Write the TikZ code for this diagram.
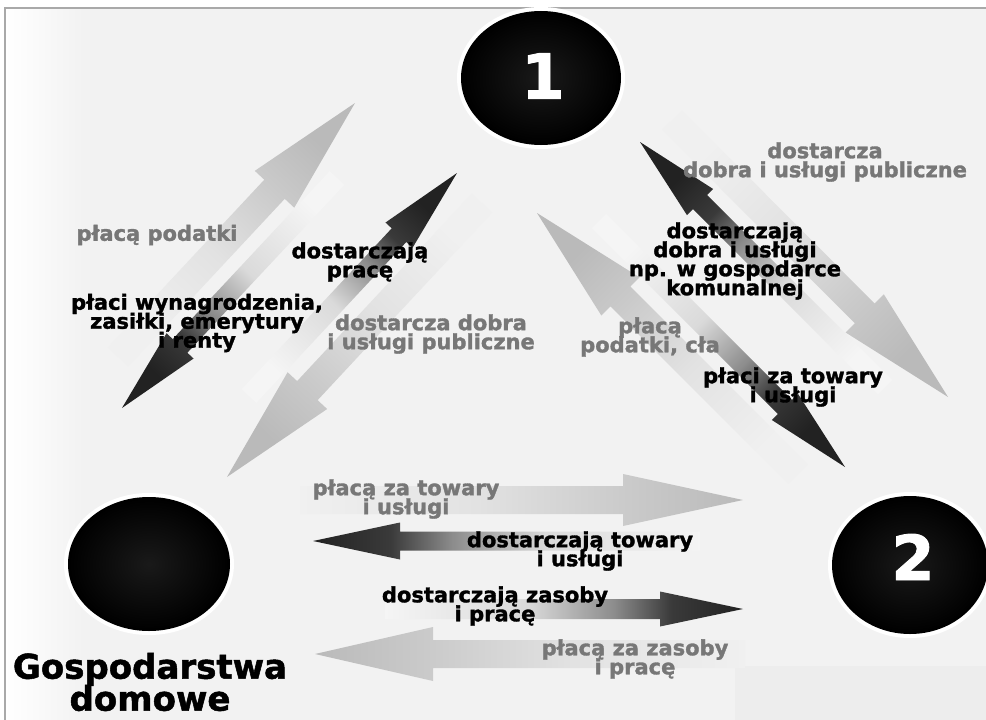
\documentclass[tikz,border=0pt]{standalone}
\usepackage{fontspec}
\setmainfont{DejaVu Sans}[BoldFeatures={FakeBold=1.5}]
\usetikzlibrary{calc,shapes.geometric}
\definecolor{bgc}{HTML}{F2F2F2}
\definecolor{framec}{HTML}{A9A9A9}
\definecolor{txtgray}{HTML}{777777}
\definecolor{lg0}{HTML}{F0F0F0}
\definecolor{lg1}{HTML}{E2E2E2}
\definecolor{lg2}{HTML}{CACACA}
\definecolor{lg3}{HTML}{BABABA}
\definecolor{dk0}{HTML}{F5F5F5}
\definecolor{dk1}{HTML}{DADADA}
\definecolor{dk2}{HTML}{8C8C8C}
\definecolor{dk3}{HTML}{3A3A3A}
\definecolor{dk4}{HTML}{222222}
\pgfdeclareverticalshading{lightsh}{100bp}{color(0bp)=(lg0); color(25bp)=(lg0); color(45bp)=(lg1); color(62bp)=(lg2); color(75bp)=(lg3); color(100bp)=(lg3)}
\pgfdeclareverticalshading{darksh}{100bp}{color(0bp)=(dk0); color(25bp)=(dk0); color(45bp)=(dk1); color(57bp)=(dk2); color(65bp)=(dk3); color(75bp)=(dk4); color(100bp)=(dk4)}
\pgfdeclarehorizontalshading{bgsh}{100bp}{color(0bp)=(white); color(25bp)=(white); color(29bp)=(bgc); color(100bp)=(bgc)}
\newcommand\blkarrow[6]{%
  \coordinate (ab) at ($(#2)!#5!(#1)$);
  \path[#6] ($(#1)!#3!90:(#2)$) -- ($(ab)!#3!90:(#2)$) -- ($(ab)!#4!90:(#2)$) -- (#2) -- ($(ab)!#4!-90:(#2)$) -- ($(ab)!#3!-90:(#2)$) -- ($(#1)!#3!-90:(#2)$) -- cycle;}
\tikzset{
  lightarr/.style={shade, shading=lightsh},
  darkarr/.style={shade, shading=darksh},
  lbl/.style={font=\fontsize{21}{19}\selectfont\bfseries, align=center, inner sep=0pt},
  blk/.style={lbl, text=black},
  gry/.style={lbl, text=txtgray},
  circ/.style={ellipse, inner sep=0pt, draw=black, line width=2pt, inner color=black!90, outer color=black, preaction={draw=white, line width=10pt}},
  num/.style={text=white, font=\fontsize{62}{62}\selectfont\bfseries, inner sep=0pt}
}
\begin{document}
\lineskiplimit=-40pt\relax
\begin{tikzpicture}[x=1pt, y=-1pt]
\useasboundingbox (0,0) rectangle (986,720);
\clip (0,0) rectangle (986,720);
\fill[white] (0,0) rectangle (986,720);
\shade[shading=bgsh] (5,8) rectangle (986,720);
\fill[black!7] (735,666) rectangle (986,720);
\draw[framec, line width=2.5pt] (5,720) -- (5,8) -- (986,8);

% arrow end points
\coordinate (a1t) at (118,357); \coordinate (a1h) at (355,103);
\coordinate (d1t) at (337,178); \coordinate (d1h) at (122,408);
\coordinate (d2t) at (249,396); \coordinate (d2h) at (457,173);
\coordinate (a2t) at (482,203); \coordinate (a2h) at (227,477);
\coordinate (r1t) at (798,474); \coordinate (r1h) at (537,213);
\coordinate (r2t) at (599,221); \coordinate (r2h) at (845,467);
\coordinate (r3t) at (885,387); \coordinate (r3h) at (640,142);
\coordinate (r4t) at (672,120); \coordinate (r4h) at (948,397);
\coordinate (b1t) at (300,500); \coordinate (b1h) at (743,500);
\coordinate (b2t) at (700,541); \coordinate (b2h) at (313,541);
\coordinate (b3t) at (385,609); \coordinate (b3h) at (743,609);
\coordinate (b4t) at (745,654); \coordinate (b4h) at (315,654);

% left link
\blkarrow{a1t}{a1h}{14pt}{27pt}{118pt}{lightarr, shading angle=-43}
\blkarrow{a2t}{a2h}{14pt}{27pt}{118pt}{lightarr, shading angle=137}
\blkarrow{d1t}{d1h}{10pt}{18.5pt}{85pt}{darkarr, shading angle=137}
\blkarrow{d2t}{d2h}{10pt}{18.5pt}{85pt}{darkarr, shading angle=-43}
% right link
\blkarrow{r1t}{r1h}{14pt}{27pt}{118pt}{lightarr, shading angle=45}
\blkarrow{r4t}{r4h}{14pt}{27pt}{118pt}{lightarr, shading angle=-135}
\blkarrow{r2t}{r2h}{10pt}{18.5pt}{85pt}{darkarr, shading angle=-135}
\blkarrow{r3t}{r3h}{10pt}{18.5pt}{85pt}{darkarr, shading angle=45}
% bottom link
\blkarrow{b1t}{b1h}{14pt}{26pt}{120pt}{lightarr, shading angle=-90}
\blkarrow{b4t}{b4h}{14pt}{27pt}{118pt}{lightarr, shading angle=90}
\blkarrow{b2t}{b2h}{9.5pt}{18.5pt}{87pt}{darkarr, shading angle=90}
\blkarrow{b3t}{b3h}{10pt}{17.5pt}{83pt}{darkarr, shading angle=-90}

% sectors
\node[circ, minimum width=158pt, minimum height=132pt] (gov) at (541,78) {};
\node[circ, minimum width=160pt, minimum height=132pt] (hh) at (149,564) {};
\node[circ, minimum width=154pt, minimum height=136pt] (firm) at (910,565) {};
\node[num] (n1) at (543,76) {1};
\node[num] (n2) at (913,557) {2};
\node[font=\fontsize{34}{32}\selectfont\bfseries, align=center, inner sep=0pt] (hhl) at (150,682) {Gospodarstwa\\domowe};

% labels
\node[gry] (l1) at (157,235) {płacą podatki};
\node[blk] (l2) at (360,262) {dostarczają\\pracę};
\node[blk] (l3) at (197,323) {płaci wynagrodzenia,\\zasiłki, emerytury\\i renty};
\node[gry] (l4) at (431,334) {dostarcza dobra\\i usługi publiczne};
\node[gry] (r1l) at (825,162) {dostarcza\\dobra i usługi publiczne};
\node[blk] (r2l) at (735,261) {dostarczają\\dobra i usługi\\np. w gospodarce\\komunalnej};
\node[gry] (r3l) at (650,337) {płacą\\podatki, cła};
\node[blk] (r4l) at (793,387) {płaci za towary\\i usługi};
\node[gry] (b1l) at (406,499) {płacą za towary\\i usługi};
\node[blk] (b2l) at (580,551) {dostarczają towary\\i usługi};
\node[blk] (b3l) at (495,606) {dostarczają zasoby\\i pracę};
\node[gry] (b4l) at (635,659) {płacą za zasoby\\i pracę};
\end{tikzpicture}
\end{document}
